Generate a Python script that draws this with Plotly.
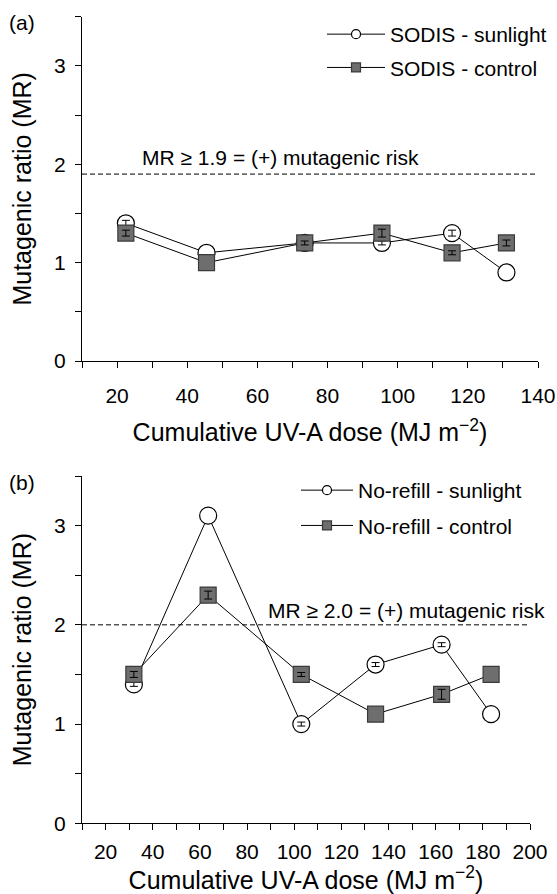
import plotly.graph_objects as go

FONT = 'Liberation Sans, Arial, sans-serif'
INK = 'black'
SQ_FILL = '#6e6e6e'
SQ_EDGE = '#3a3a3a'
W, H = 557, 894

# (a) SODIS bottles
dose_a = [22.5, 45.5, 73.5, 95.5, 115.5, 131]
sodis_sun = [1.4, 1.1, 1.2, 1.2, 1.3, 0.9]
sodis_sun_err = [0.03, None, 0.02, 0.02, 0.03, None]
sodis_ctrl = [1.3, 1.0, 1.2, 1.3, 1.1, 1.2]
sodis_ctrl_err = [0.03, None, 0.02, 0.04, 0.02, 0.03]
risk_a = 1.9

# (b) No-refill bottles
dose_b = [32, 63.5, 103, 134.5, 162.5, 183.5]
norefill_sun = [1.4, 3.1, 1.0, 1.6, 1.8, 1.1]
norefill_sun_err = [0.02, None, 0.02, 0.02, 0.02, None]
norefill_ctrl = [1.5, 2.3, 1.5, 1.1, 1.3, 1.5]
norefill_ctrl_err = [0.03, 0.04, 0.02, None, 0.05, None]
risk_b = 2.0


def _marker(sun, size):
    if sun:
        return dict(symbol='circle', size=size, color='white', line=dict(color=INK, width=1.2))
    return dict(symbol='square', size=size, color=SQ_FILL, line=dict(color=SQ_EDGE, width=1.2))


def add_series(fig, x, y, err, name, sun, ax, legend):
    xa, ya = ('x', 'y') if ax == 1 else ('x2', 'y2')
    fig.add_trace(go.Scatter(
        x=x, y=y, mode='lines+markers', xaxis=xa, yaxis=ya,
        line=dict(color=INK, width=1), marker=_marker(sun, 17 if sun else 16),
        showlegend=False, hoverinfo='x+y',
    ))
    # error bars only where they were reported, drawn over the markers
    pts = [(a, b, e) for a, b, e in zip(x, y, err) if e is not None]
    fig.add_trace(go.Scatter(
        x=[p[0] for p in pts], y=[p[1] for p in pts], mode='markers',
        xaxis=xa, yaxis=ya, marker=dict(size=2, opacity=0),
        error_y=dict(type='data', array=[p[2] for p in pts], color=INK, thickness=1, width=4),
        showlegend=False, hoverinfo='skip',
    ))
    # small legend stub
    fig.add_trace(go.Scatter(
        x=[None], y=[None], mode='lines+markers', xaxis=xa, yaxis=ya,
        name=name, legend=legend, legendgroup=name,
        line=dict(color=INK, width=1), marker=_marker(sun, 9),
    ))


fig = go.Figure()
add_series(fig, dose_a, sodis_sun, sodis_sun_err, 'SODIS - sunlight', True, 1, 'legend')
add_series(fig, dose_a, sodis_ctrl, sodis_ctrl_err, 'SODIS - control', False, 1, 'legend')
add_series(fig, dose_b, norefill_sun, norefill_sun_err, 'No-refill - sunlight', True, 2, 'legend2')
add_series(fig, dose_b, norefill_ctrl, norefill_ctrl_err, 'No-refill - control', False, 2, 'legend2')


def xax(dom, rng, major, lab_off, title_off):
    return dict(
        domain=dom, range=rng, showgrid=False, zeroline=False, showline=True,
        linecolor=INK, linewidth=1.2, ticks='outside', ticklen=6, tickcolor=INK,
        tickwidth=1.2, dtick=major, tick0=0, ticklabelstandoff=lab_off,
        minor=dict(dtick=major / 2, tick0=0, ticks='outside', ticklen=6, tickcolor=INK, tickwidth=1.2),
        title=dict(text='Cumulative UV-A dose (MJ m<sup>−2</sup>)', standoff=title_off),
        tickfont=dict(size=21), automargin=False,
    )


def yax(dom, anchor):
    return dict(
        domain=dom, range=[0, 3.5], anchor=anchor, showgrid=False, zeroline=False,
        showline=True, linecolor=INK, linewidth=1.2, ticks='outside', ticklen=6,
        tickcolor=INK, tickwidth=1.2, dtick=1, ticklabelstandoff=5,
        minor=dict(dtick=0.5, ticks='outside', ticklen=6, tickcolor=INK, tickwidth=1.2),
        title=dict(text='Mutagenic ratio (MR)', standoff=15),
        tickfont=dict(size=21), automargin=False,
    )


fig.update_layout(
    width=W, height=H,
    margin=dict(l=0, r=0, t=0, b=0),
    paper_bgcolor='white', plot_bgcolor='white',
    font=dict(family=FONT, size=21, color=INK),
    xaxis=dict(xax([82 / W, 538 / W], [10, 140], 20, 10, 17), anchor='y'),
    yaxis=yax([1 - 361 / H, 1 - 16.7 / H], 'x'),
    xaxis2=dict(xax([82 / W, 530 / W], [10, 200], 20, 3, 23), anchor='y2'),
    yaxis2=yax([1 - 823.3 / H, 1 - 476 / H], 'x2'),
    legend=dict(x=322 / W, y=1 - 14 / H, xanchor='left', yanchor='top',
                bgcolor='rgba(0,0,0,0)', itemwidth=58, tracegroupgap=3,
                traceorder='grouped', font=dict(size=21)),
    legend2=dict(x=296 / W, y=1 - 470 / H, xanchor='left', yanchor='top',
                 bgcolor='rgba(0,0,0,0)', itemwidth=52, tracegroupgap=5,
                 traceorder='grouped', font=dict(size=21)),
    showlegend=True,
)

# mutagenic-risk thresholds
fig.add_shape(type='line', xref='x', yref='y', x0=10, x1=140, y0=risk_a, y1=risk_a,
              line=dict(color=INK, width=1, dash='5px,3px'))
fig.add_shape(type='line', xref='x2', yref='y2', x0=10, x1=199, y0=risk_b, y1=risk_b,
              line=dict(color=INK, width=1, dash='5px,3px'))
fig.add_annotation(xref='x', yref='y', x=26.5, y=risk_a + 0.17, xanchor='left',
                   text=f'MR ≥ {risk_a:.1f} = (+) mutagenic risk', showarrow=False,
                   font=dict(size=21))
fig.add_annotation(xref='x2', yref='y2', x=88, y=risk_b + 0.14, xanchor='left',
                   text=f'MR ≥ {risk_b:.1f} = (+) mutagenic risk', showarrow=False,
                   font=dict(size=21))

# panel letters
fig.add_annotation(xref='paper', yref='paper', x=22 / W, y=1 - 22 / H, text='(a)',
                   xanchor='center', yanchor='middle', showarrow=False, font=dict(size=21))
fig.add_annotation(xref='paper', yref='paper', x=22 / W, y=1 - 482 / H, text='(b)',
                   xanchor='center', yanchor='middle', showarrow=False, font=dict(size=21))

# the page's default body margin would push the 557x894 figure off-screen
fig.write_html('out.html', config={'displayModeBar': False},
               post_script="document.body.style.margin='0';")
